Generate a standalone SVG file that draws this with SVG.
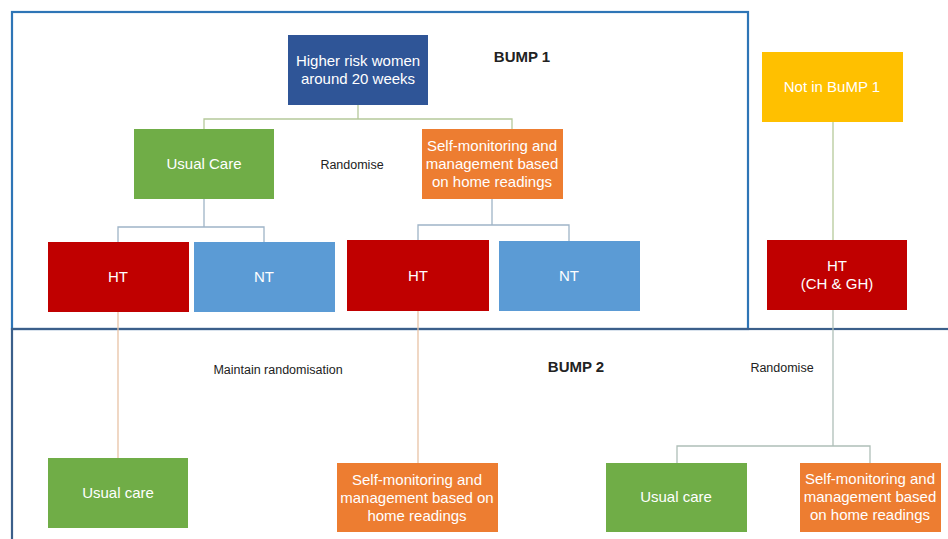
<svg xmlns="http://www.w3.org/2000/svg" width="948" height="539" viewBox="0 0 948 539">
<style>
.t{font-family:"Liberation Sans",Arial,sans-serif;font-size:15px;fill:#fff;text-anchor:middle}
.l{font-family:"Liberation Sans",Arial,sans-serif;font-size:12.5px;fill:#222;text-anchor:middle}
.b{font-family:"Liberation Sans",Arial,sans-serif;font-size:15px;font-weight:bold;fill:#222;text-anchor:middle}
.c{fill:none;stroke-width:1.3}
.frame{fill:none;stroke-width:2.2}
</style>
<rect width="948" height="539" fill="#fff"/>
<g id="frames">
<rect class="frame" x="12" y="12" width="736" height="317" stroke="#2E75B6"/>
<rect class="frame" x="12" y="329" width="950" height="230" stroke="#3B5F8A"/>
</g>
<g id="connectors">
<path class="c" stroke="#B5C99A" d="M358 105V119M204 129V119H512V129"/>
<path class="c" stroke="#9FB4C7" d="M204 199V227M118 242V227H264V242"/>
<path class="c" stroke="#9FB4C7" d="M492 199V225M418 240V225H569V241"/>
<path class="c" stroke="#B5C99A" d="M833 122V240"/>
<path class="c" stroke="#E9C3A6" d="M118 312V458M418 311V463"/>
<path class="c" stroke="#AFBFB8" d="M833 310V446M677 463V446H870V463"/>
</g>
<g id="higher-risk"><rect x="288" y="35" width="140" height="70" fill="#2F5597"/><text class="t" x="358" y="66">Higher risk women</text><text class="t" x="358" y="84">around 20 weeks</text></g>
<g id="usual-care-1"><rect x="134" y="129" width="140" height="70" fill="#70AD47"/><text class="t" x="204" y="169">Usual Care</text></g>
<g id="self-mon-1"><rect x="422" y="129" width="141" height="70" fill="#ED7D31"/><text class="t" x="492" y="151">Self-monitoring and</text><text class="t" x="492" y="169">management based</text><text class="t" x="492" y="187">on home readings</text></g>
<g id="ht-1"><rect x="48" y="242" width="141" height="70" fill="#C00000"/><text class="t" x="118" y="282">HT</text></g>
<g id="nt-1"><rect x="194" y="242" width="141" height="70" fill="#5B9BD5"/><text class="t" x="264" y="282">NT</text></g>
<g id="ht-2"><rect x="347" y="240" width="142" height="71" fill="#C00000"/><text class="t" x="418" y="281">HT</text></g>
<g id="nt-2"><rect x="499" y="241" width="141" height="70" fill="#5B9BD5"/><text class="t" x="569" y="281">NT</text></g>
<g id="not-in-bump1"><rect x="762" y="52" width="141" height="70" fill="#FFC000"/><text class="t" x="832" y="92">Not in BuMP 1</text></g>
<g id="ht-3"><rect x="767" y="240" width="140" height="70" fill="#C00000"/><text class="t" x="837" y="271">HT</text><text class="t" x="837" y="289">(CH &amp; GH)</text></g>
<g id="usual-care-2"><rect x="48" y="458" width="140" height="70" fill="#70AD47"/><text class="t" x="118" y="498">Usual care</text></g>
<g id="self-mon-2"><rect x="337" y="463" width="161" height="69" fill="#ED7D31"/><text class="t" x="417" y="485">Self-monitoring and</text><text class="t" x="417" y="503">management based on</text><text class="t" x="417" y="521">home readings</text></g>
<g id="usual-care-3"><rect x="606" y="463" width="141" height="69" fill="#70AD47"/><text class="t" x="676" y="502">Usual care</text></g>
<g id="self-mon-3"><rect x="800" y="463" width="141" height="69" fill="#ED7D31"/><text class="t" x="870" y="484">Self-monitoring and</text><text class="t" x="870" y="502">management based</text><text class="t" x="870" y="520">on home readings</text></g>
<g id="labels">
<text class="b" x="522" y="62">BUMP 1</text>
<text class="l" x="352" y="169">Randomise</text>
<text class="l" x="278" y="374">Maintain randomisation</text>
<text class="b" x="576" y="372">BUMP 2</text>
<text class="l" x="782" y="372">Randomise</text>
</g>
</svg>
